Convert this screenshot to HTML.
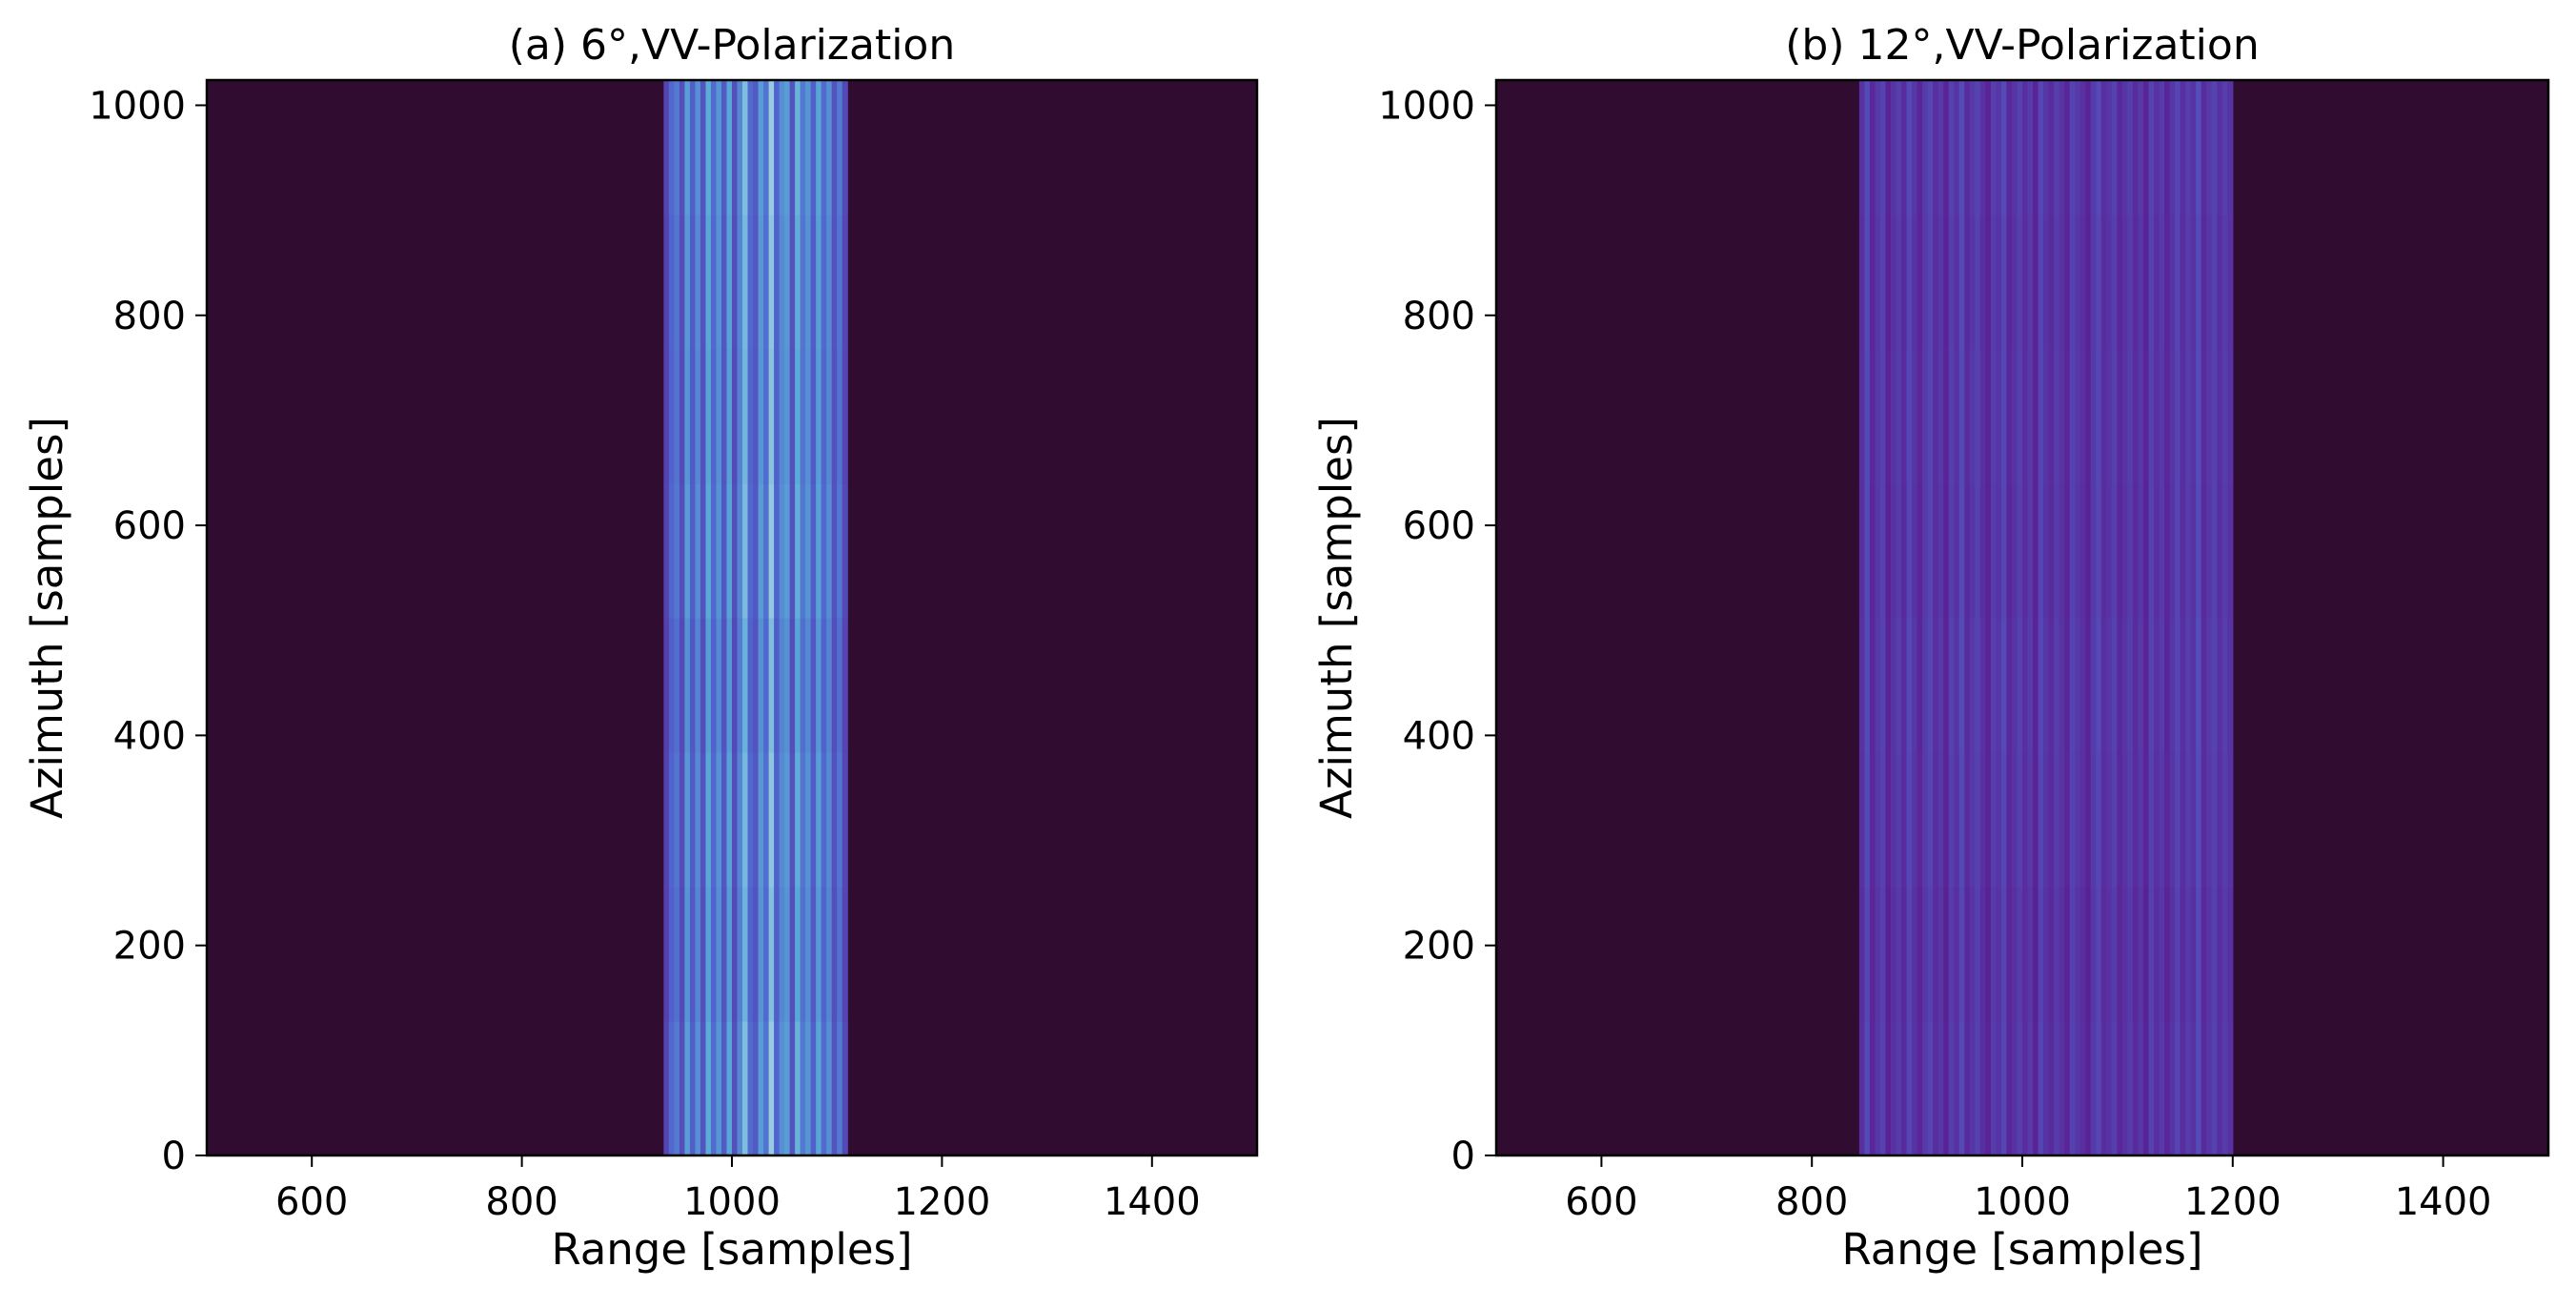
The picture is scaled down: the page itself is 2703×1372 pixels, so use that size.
<!DOCTYPE html>
<html><head><meta charset="utf-8"><style>
html,body{margin:0;padding:0;background:#fff;}
svg{display:block;font-family:"DejaVu Sans","Liberation Sans",sans-serif;}
</style></head><body>
<svg id="fig" width="2703" height="1372" viewBox="0 0 2703 1372" xmlns="http://www.w3.org/2000/svg"></svg>
<script>
// ---- data ----
const xTicks = [600, 800, 1000, 1200, 1400];
const yTicks = [0, 200, 400, 600, 800, 1000];
const titles = ["(a) 6°,VV-Polarization", "(b) 12°,VV-Polarization"];
const bandStart = [935, 845];
const bandEnd = [1110, 1200];
const colWidth = 5;
// per-column mean intensity (0..1) across the band, panel a
const colsA = [0.42,0.55,0.6,0.46,0.7,0.52,0.66,0.48,0.74,0.56,0.68,0.5,0.72,0.46,0.64,0.8,0.56,0.5,0.7,0.58,0.84,0.54,0.66,0.7,0.48,0.76,0.6,0.68,0.52,0.72,0.56,0.66,0.48,0.6,0.44];
// panel b
const colsB = [0.35,0.45,0.32,0.38,0.42,0.3,0.36,0.4,0.33,0.44,0.37,0.31,0.39,0.43,0.34,0.38,0.3,0.41,0.36,0.45,0.33,0.38,0.42,0.35,0.3,0.4,0.37,0.44,0.32,0.36,0.41,0.34,0.39,0.3,0.43,0.37,0.33,0.4,0.36,0.31,0.42,0.38,0.35,0.3,0.39,0.44,0.34,0.37,0.41,0.32,0.36,0.4,0.33,0.38,0.3,0.42,0.35,0.39,0.31,0.37,0.43,0.34,0.4,0.36,0.46,0.33,0.38,0.42,0.35,0.4,0.36];
// per-row modulation (8 azimuth blocks of 128, bottom to top)
const rowsA = [1.02,0.98,1.0,0.97,1.01,0.99,1.0,1.02];
const rowsB = [0.99,0.97,1.0,1.01,0.99,1.0,0.99,1.01];

// ---- layout ----
const NS = "http://www.w3.org/2000/svg";
const svg = document.getElementById("fig");
const panels = [{x0:217,x1:1319},{x0:1570,x1:2674}];
const yTop = 84, yBot = 1212;
const xMin = 500, xMax = 1500, yMin = 0, yMax = 1024;
function el(tag, attrs, parent){const e=document.createElementNS(NS,tag);for(const k in attrs)e.setAttribute(k,attrs[k]);(parent||svg).appendChild(e);return e;}
function ramp(v){
  const stops=[[0,[47,12,48]],[0.3,[90,35,150]],[0.55,[80,100,205]],[0.75,[90,170,215]],[1,[235,245,240]]];
  v=Math.max(0,Math.min(1,v));
  for(let i=1;i<stops.length;i++){if(v<=stops[i][0]){const a=stops[i-1],b=stops[i];const t=(v-a[0])/(b[0]-a[0]);return "rgb("+a[1].map((c,j)=>Math.round(c+(b[1][j]-c)*t)).join(",")+")";}}
  return "rgb(235,245,240)";
}
const colsAll=[colsA,colsB], rowsAll=[rowsA,rowsB];
panels.forEach((p,pi)=>{
  const sx=v=>p.x0+(v-xMin)/(xMax-xMin)*(p.x1-p.x0);
  const sy=v=>yBot-(v-yMin)/(yMax-yMin)*(yBot-yTop);
  const g=el("g",{});
  
  
  const bg=el("rect",{x:p.x0,y:yTop,width:p.x1-p.x0,height:yBot-yTop,fill:"#2f0c30"},g);
  
  
  const cols=colsAll[pi], rows=rowsAll[pi];
  const rowH=yMax/rows.length;
  cols.forEach((c,i)=>{
    const xs=bandStart[pi]+i*colWidth;
    rows.forEach((r,j)=>{
      const cell=el("rect",{x:sx(xs),y:sy((j+1)*rowH),width:sx(xs+colWidth)-sx(xs)+0.6,height:sy(j*rowH)-sy((j+1)*rowH)+0.6,fill:ramp(c*r)},g);
      
      
    });
  });
  const frame=el("rect",{x:p.x0,y:yTop,width:p.x1-p.x0,height:yBot-yTop,fill:"none",stroke:"#000","stroke-width":2.5},g);
  
  
  xTicks.forEach(t=>{
    el("line",{x1:sx(t),x2:sx(t),y1:yBot,y2:yBot+12,stroke:"#000","stroke-width":2},g);
    const tx=el("text",{x:sx(t),y:yBot+62,"font-size":40,"text-anchor":"middle",fill:"#000"},g);
    tx.textContent=t;
    
    
  });
  yTicks.forEach(t=>{
    el("line",{x1:p.x0-12,x2:p.x0,y1:sy(t),y2:sy(t),stroke:"#000","stroke-width":2},g);
    const ty=el("text",{x:p.x0-22,y:sy(t)+14,"font-size":40,"text-anchor":"end",fill:"#000"},g);
    ty.textContent=t;
    
    
  });
  const cx=(p.x0+p.x1)/2;
  const tt=el("text",{x:cx,y:62,"font-size":44,"text-anchor":"middle",fill:"#000"},g);
  tt.textContent=titles[pi];
  
  
  const xl=el("text",{x:cx,y:1326,"font-size":45,"text-anchor":"middle",fill:"#000"},g);
  xl.textContent="Range [samples]";
  
  
  const ly=(yTop+yBot)/2, lx=p.x0-152;
  const yl=el("text",{x:lx,y:ly,"font-size":45,"text-anchor":"middle",fill:"#000",transform:"rotate(-90 "+lx+" "+ly+")"},g);
  yl.textContent="Azimuth [samples]";
  
  
});
</script>
</body></html>
